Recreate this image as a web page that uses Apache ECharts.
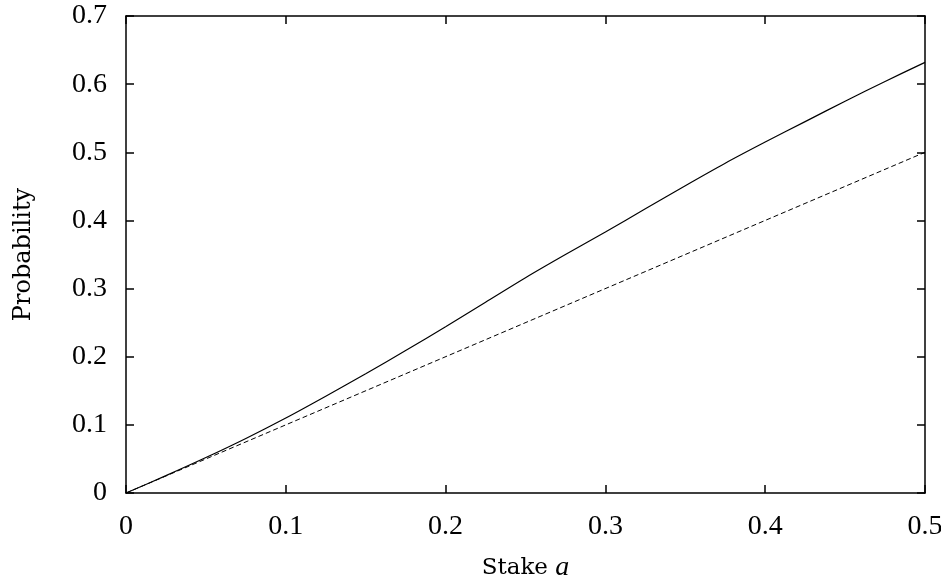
<!DOCTYPE html>
<html>
<head>
<meta charset="utf-8">
<script src="https://cdn.jsdelivr.net/npm/echarts@6/dist/echarts.min.js"></script>
<style>
  html, body { margin: 0; padding: 0; background: #fff; }
  #chart { width: 941px; height: 583px; }
</style>
</head>
<body>
<div id="chart"></div>
<script>
// stake values (x) and probabilities
const stakes = [0, 0.025, 0.05, 0.075, 0.1, 0.125, 0.15, 0.175, 0.2, 0.225, 0.25,
  0.275, 0.3, 0.325, 0.35, 0.375, 0.4, 0.425, 0.45, 0.475, 0.5]
const solidProb = [0, 0.0255, 0.052, 0.080, 0.110, 0.142, 0.175, 0.209, 0.244, 0.280, 0.316,
  0.350, 0.383, 0.417, 0.451, 0.484, 0.515, 0.545, 0.575, 0.604, 0.632]
// dashed reference line
const dashedStakes = [0, 0.5]
const dashedProb = [0, 0.5]

const xTicks = [0, 0.1, 0.2, 0.3, 0.4, 0.5]
const yTicks = [0, 0.1, 0.2, 0.3, 0.4, 0.5, 0.6, 0.7]

const numFont = '"Liberation Serif", serif'
const nameFont = '"DejaVu Serif", serif'

function zip(xs, ys) {
  return xs.map((x, i) => [x, ys[i]])
}

const axisLine = { show: true, onZero: false, lineStyle: { color: '#000', width: 1.5 } }
const tickIn = { show: true, inside: true, length: 8, lineStyle: { color: '#000', width: 1.5 } }

let chart = echarts.init(document.getElementById('chart'), null, { renderer: 'canvas' })
let option = {
  animation: false,
  backgroundColor: '#fff',
  grid: { left: 126, right: 16, top: 16, bottom: 90, containLabel: false, outerBoundsMode: 'none' },
  xAxis: [
    {
      type: 'value',
      min: xTicks[0],
      max: xTicks[xTicks.length - 1],
      interval: 0.1,
      position: 'bottom',
      name: 'Stake {i|a}',
      nameLocation: 'middle',
      nameGap: 61,
      nameTextStyle: {
        fontFamily: nameFont, fontSize: 23, color: '#000',
        rich: { i: { fontFamily: numFont, fontStyle: 'italic', fontSize: 28, color: '#000' } }
      },
      axisLine: axisLine,
      axisTick: tickIn,
      axisLabel: { margin: 20, fontFamily: numFont, fontSize: 28, color: '#000' },
      splitLine: { show: false }
    },
    {
      type: 'value',
      min: xTicks[0],
      max: xTicks[xTicks.length - 1],
      interval: 0.1,
      position: 'top',
      axisLine: axisLine,
      axisTick: tickIn,
      axisLabel: { show: false },
      splitLine: { show: false }
    }
  ],
  yAxis: [
    {
      type: 'value',
      min: yTicks[0],
      max: yTicks[yTicks.length - 1],
      interval: 0.1,
      position: 'left',
      name: 'Probability',
      nameLocation: 'middle',
      nameGap: 90,
      nameRotate: 90,
      nameTextStyle: { fontFamily: nameFont, fontSize: 24, color: '#000' },
      axisLine: axisLine,
      axisTick: tickIn,
      axisLabel: { margin: 19, fontFamily: numFont, fontSize: 28, color: '#000' },
      splitLine: { show: false }
    },
    {
      type: 'value',
      min: yTicks[0],
      max: yTicks[yTicks.length - 1],
      interval: 0.1,
      position: 'right',
      axisLine: axisLine,
      axisTick: tickIn,
      axisLabel: { show: false },
      splitLine: { show: false }
    }
  ],
  series: [
    {
      type: 'line',
      data: zip(stakes, solidProb),
      showSymbol: false,
      smooth: 0.3,
      lineStyle: { color: '#000', width: 1.2 }
    },
    {
      type: 'line',
      data: zip(dashedStakes, dashedProb),
      showSymbol: false,
      lineStyle: { color: '#000', width: 1, type: [5, 3] }
    }
  ]
}
chart.setOption(option)
</script>
</body>
</html>
